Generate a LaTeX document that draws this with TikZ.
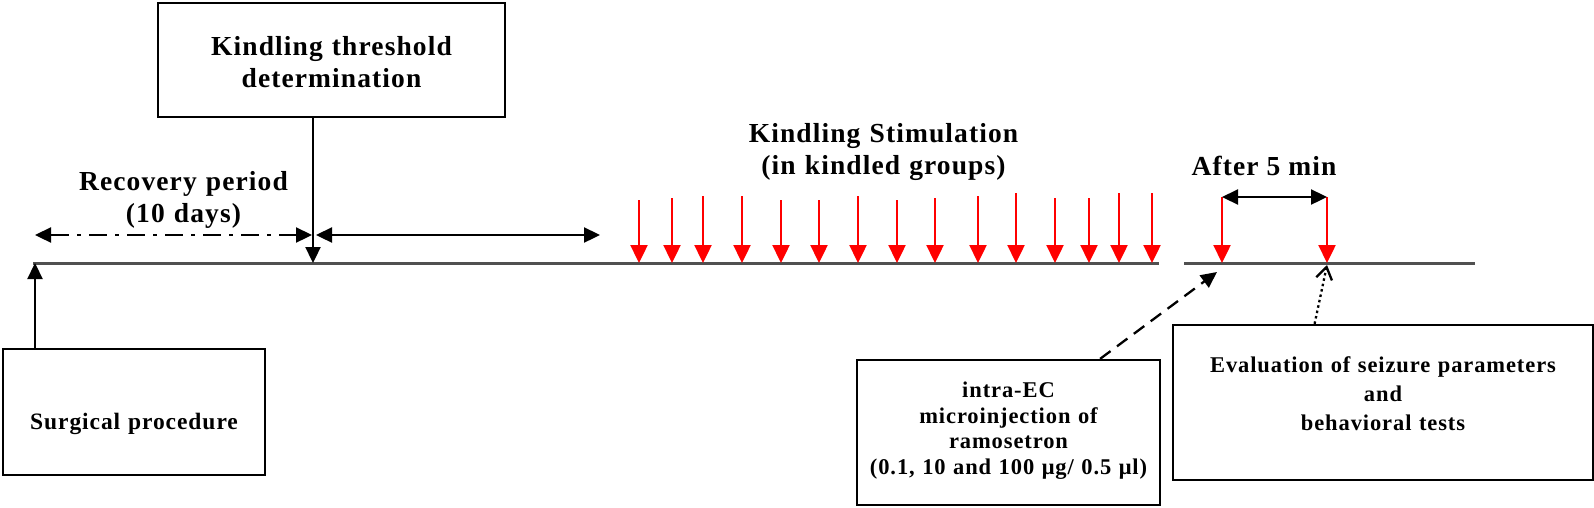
\documentclass[tikz,border=0pt]{standalone}
\usepackage{fontspec}
\setmainfont{Liberation Serif}[LetterSpace=4.0]
\usetikzlibrary{arrows.meta}
\usetikzlibrary{calc}
\usetikzlibrary{positioning}
\definecolor{red2}{RGB}{255, 0, 0}
\definecolor{gray2}{RGB}{80, 80, 80}
\def\bigfont{\fontsize{27.5}{32}\selectfont\bfseries}
\def\boxfont{\fontsize{22.5}{29}\selectfont\bfseries}
\tikzset{
thickline/.style={line width=2.3pt},
box/.style={draw, thickline, rectangle, inner sep=0pt, align=center},
blk/.style={thickline, -{Triangle[length=16pt,width=15pt]}},
dblk/.style={thickline, {Triangle[length=16pt,width=15pt]}-{Triangle[length=16pt,width=15pt]}},
stim/.style={red2, line width=2.4pt, -{Triangle[length=18pt,width=17pt]}},
timeline/.style={gray2, line width=3pt},
}

\begin{document}
\begin{tikzpicture}[x=1pt, y=-1pt]
\useasboundingbox (0,0) rectangle (1594,507);
%Place the boxes
\node[box, minimum width=347pt, minimum height=114pt, text width=335pt, font=\bigfont, text depth=28.4pt] (thresh) at (331.5,60) {Kindling threshold\\determination};
\node[box, minimum width=262pt, minimum height=126pt, text width=250pt, font=\fontsize{23.5}{28}\selectfont\bfseries, text height=34pt, text depth=0pt] (surg) at (134,412) {Surgical procedure};
\node[box, minimum width=303pt, minimum height=145pt, text width=295pt, font=\fontsize{22.5}{25.5}\selectfont\bfseries, text depth=85.3pt] (micro) at (1008.5,432.5) {intra-EC\\microinjection of\\ramosetron\\(0.1, 10 and 100 μg/ 0.5 μl)};
\node[box, minimum width=420pt, minimum height=155pt, text width=410pt, font=\boxfont, text depth=75.3pt] (eval) at (1383,402.5) {Evaluation of seizure parameters\\and\\behavioral tests};

%Labels
\node[font=\bigfont, text width=300pt, align=center, anchor=base] (recov) at (183.5,190) {Recovery period\\(10 days)};
\node[font=\bigfont, text width=360pt, align=center, anchor=base] (stimtxt) at (883.5,142) {Kindling Stimulation\\(in kindled groups)};
\node[font=\bigfont, anchor=base] (after) at (1264,175) {After 5 min};

%Time line
\coordinate (t0) at (33,263);
\coordinate (t1) at (1159,263);
\coordinate (t2) at (1184,263);
\coordinate (t3) at (1475,263);
\draw[timeline] (t0) -- (t1);
\draw[timeline] (t2) -- (t3);

%
\coordinate (s0) at (35,263);
\coordinate (tk) at (313,263);
\draw[blk] (surg.north -| s0) -- (s0);
\draw[blk] (thresh.south -| tk) -- (tk);

%
\coordinate (r0) at (35,235);
\coordinate (r1) at (312,235);
\coordinate (r2) at (316,235);
\coordinate (r3) at (600,235);
\draw[dblk, dash pattern=on 18pt off 8pt on 4pt off 8pt] (r1) -- (r0);
\draw[dblk] (r2) -- (r3);

%
\foreach \x/\y [count=\i] in {639/200, 672/198, 703/196, 742/196, 781/200, 819/200, 858/196, 897/200, 935/198, 978/196, 1016/193, 1055/198, 1089/198, 1119/193, 1152/193} {
	\coordinate (p\i) at (\x,\y);
	\draw[stim] (p\i) -- (p\i |- t0);
}

%
\coordinate (a1) at (1222,197);
\coordinate (a2) at (1327,197);
\draw[stim] (a1) -- (a1 |- t0);
\draw[stim] (a2) -- (a2 |- t0);
\draw[dblk] (a1) -- (a2);

%
\coordinate (inj) at (1217,272);
\draw[blk, dash pattern=on 13pt off 8pt] ($(micro.north west)!0.8!(micro.north east)$) -- (inj);
\draw[thickline, dash pattern=on 2.5pt off 3pt, -{Straight Barb[length=12pt,width=16pt,line width=2.3pt]}] ($(eval.north west)!0.338!(eval.north east)$) -- ($(a2 |- t0)+(0,2)$);

\end{tikzpicture}
\end{document}
